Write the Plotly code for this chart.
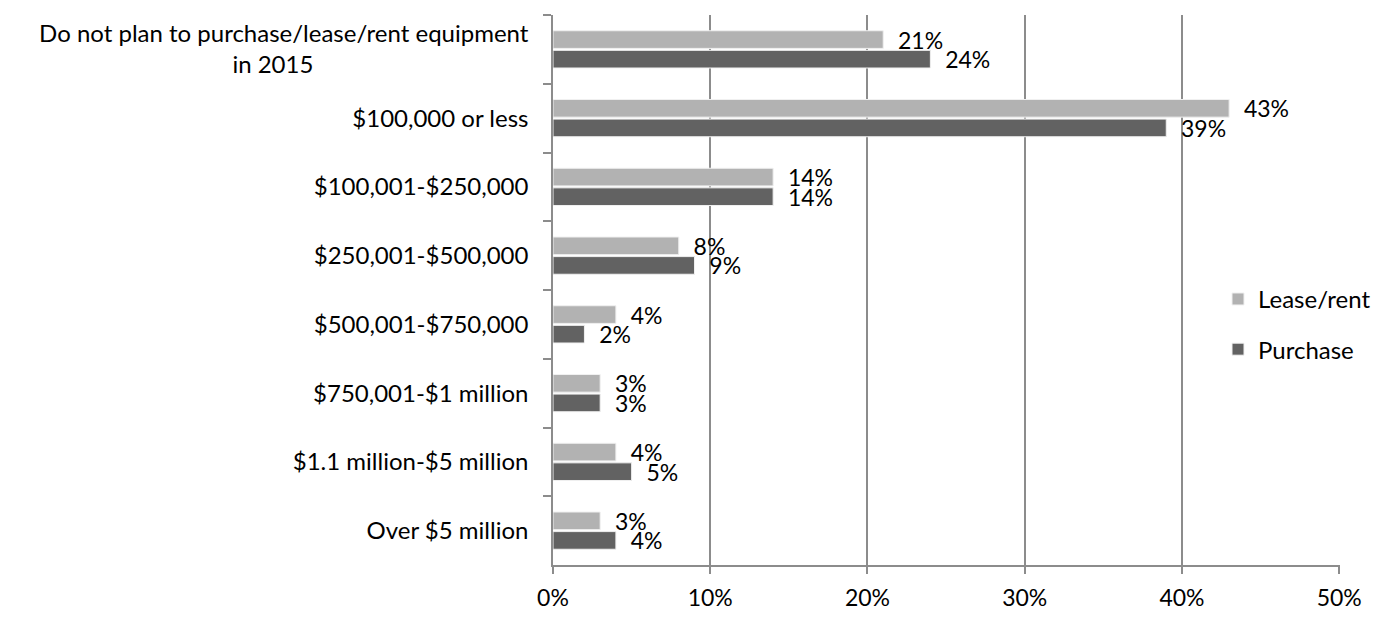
import plotly.graph_objects as go

categories = [
    "Do not plan to purchase/lease/rent equipment<br>in 2015" + "\u00a0" * 35,
    "$100,000 or less",
    "$100,001-$250,000",
    "$250,001-$500,000",
    "$500,001-$750,000",
    "$750,001-$1 million",
    "$1.1 million-$5 million",
    "Over $5 million",
]
lease_rent = [21, 43, 14, 8, 4, 3, 4, 3]
purchase = [24, 39, 14, 9, 2, 3, 5, 4]
x_ticks = [0, 10, 20, 30, 40, 50]

FONT = "Lato"
PAD = "\u00a0\u00a0"
fig = go.Figure()
fig.add_trace(go.Bar(
    y=categories, x=lease_rent, orientation="h", name="Lease/rent",
    marker=dict(color="#b2b2b2", line=dict(color="#f0f0f0", width=1)),
    text=[f"{PAD}{v}%" for v in lease_rent], textposition="outside",
    textfont=dict(family=FONT, size=23, color="#000000"), cliponaxis=False,
    legendgroup="a",
))
fig.add_trace(go.Bar(
    y=categories, x=purchase, orientation="h", name="Purchase",
    marker=dict(color="#626262", line=dict(color="#f0f0f0", width=1)),
    text=[f"{PAD}{v}%" for v in purchase], textposition="outside",
    textfont=dict(family=FONT, size=23, color="#000000"), cliponaxis=False,
    legendgroup="b",
))
fig.update_layout(
    width=1383, height=630,
    margin=dict(l=545, r=51, t=7, b=73, autoexpand=False),
    paper_bgcolor="white", plot_bgcolor="white",
    barmode="group", bargap=0.43, bargroupgap=0.1,
    font=dict(family=FONT, size=24, color="#000000"),
    legend=dict(x=0.845, y=0.4375, xanchor="left", yanchor="middle",
                font=dict(family=FONT, size=24, color="#000000"),
                tracegroupgap=16, itemwidth=30, bgcolor="rgba(0,0,0,0)"),
    uniformtext=dict(mode="show", minsize=23),
)
fig.update_xaxes(
    range=[0, 50.05], tickvals=x_ticks, ticktext=[f"{v}%" for v in x_ticks],
    showgrid=True, gridcolor="#8c8c8c", gridwidth=1.5, zeroline=False,
    showline=True, linecolor="#8c8c8c", linewidth=1.5,
    ticks="outside", ticklen=7, tickcolor="#8c8c8c", tickwidth=1.5,
    ticklabelstandoff=5, automargin=False,
    tickfont=dict(family=FONT, size=23),
)
fig.update_yaxes(
    autorange="reversed", showline=True, linecolor="#8c8c8c", linewidth=1.5,
    ticks="outside", tickson="boundaries", ticklen=8, tickcolor="#8c8c8c",
    tickwidth=1.5, ticklabelstandoff=18, showgrid=False, automargin=False,
    tickfont=dict(family=FONT, size=24),
)
fig.write_html("out.html")
